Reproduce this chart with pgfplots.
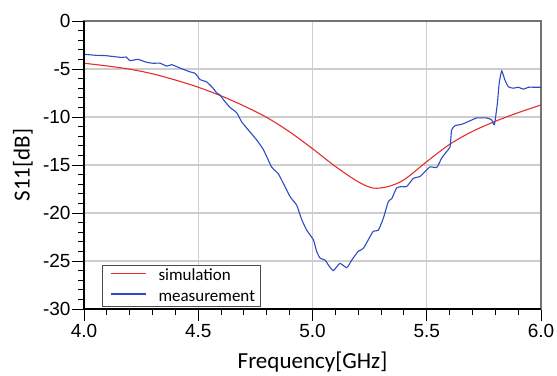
\documentclass[border=0pt]{standalone}
\usepackage{pgfplots}
\pgfplotsset{compat=1.18}
\usepackage{fontspec}
\setmainfont{Carlito}
\newfontfamily\arialf{Liberation Sans}
\definecolor{simred}{RGB}{228,45,45}
\definecolor{measblue}{RGB}{45,75,195}
\definecolor{gridgray}{RGB}{205,205,205}
\begin{document}
\begin{tikzpicture}
\begin{axis}[
  scale only axis, width=457pt, height=288pt,
  xmin=4, xmax=6, ymin=-30, ymax=0,
  xtick={4,4.5,5,5.5,6}, xticklabels={4.0,4.5,5.0,5.5,6.0},
  ytick={-30,-25,-20,-15,-10,-5,0}, yticklabels={-30,-25,-20,-15,-10,-5,0},
  minor x tick num=4, minor y tick num=4,
  tick align=outside, tick pos=left,
  major tick length=12pt, minor tick length=6pt,
  tick style={black, line width=0.9pt},
  grid=major, major grid style={gridgray, line width=1.2pt},
  axis line style={line width=1.1pt, color=black!55},
  tick label style={font=\arialf\fontsize{19}{22}\selectfont},
  yticklabel style={xshift=2pt},
  xlabel={Frequency[GHz]}, ylabel={S11[dB]},
  label style={font=\fontsize{23}{27}\selectfont},
  xlabel style={at={([yshift=-60pt]axis description cs:0.5,0)}, anchor=base},
  ylabel style={at={([xshift=-61pt]axis description cs:0,0.5)}, anchor=center},
  legend style={at={(axis description cs:0.0394,0.007)}, anchor=south west,
    draw=black!70, line width=0.8pt, row sep=4pt, column sep=10pt,
    font=\fontsize{17}{20}\selectfont},
  legend cell align=left,
  legend image code/.code={\path (0pt,0pt); \draw[#1] (5pt,0.25em) -- (40pt,0.25em);},
]
\addplot[simred, line width=1.1pt, smooth] coordinates {
(4.0,-4.4) (4.1,-4.68) (4.2,-5.02) (4.3,-5.5) (4.4,-6.15) (4.5,-6.9)
(4.6,-7.8) (4.7,-8.85) (4.8,-10.05) (4.9,-11.55) (5.0,-13.3) (5.1,-15.15)
(5.2,-16.75) (5.265,-17.4) (5.33,-17.25) (5.4,-16.55) (5.5,-14.65)
(5.6,-12.85) (5.7,-11.5) (5.8,-10.45) (5.9,-9.55) (6.0,-8.75)
};
\addlegendentry{simulation}
\addplot[measblue, line width=1.1pt, smooth, tension=0.3] coordinates {
(4.000,-3.47) (4.025,-3.52) (4.056,-3.58) (4.09,-3.6) (4.128,-3.7) (4.166,-3.8)
(4.185,-3.75) (4.201,-4.13) (4.236,-4.0) (4.274,-4.3) (4.302,-4.4) (4.333,-4.4)
(4.362,-4.7) (4.384,-4.55) (4.420,-4.9) (4.464,-5.3) (4.486,-5.45) (4.508,-6.1)
(4.537,-6.35) (4.565,-7.0) (4.581,-7.5) (4.595,-7.7) (4.610,-8.2) (4.639,-9.0)
(4.668,-9.55) (4.690,-10.5) (4.719,-11.35) (4.756,-12.4) (4.785,-13.4)
(4.821,-15.2) (4.850,-15.9) (4.872,-16.9) (4.902,-18.3) (4.931,-19.2)
(4.953,-20.7) (4.975,-21.8) (5.004,-22.8) (5.018,-24.0) (5.033,-24.7)
(5.055,-24.9) (5.069,-25.4) (5.091,-26.0) (5.120,-25.25) (5.150,-25.7)
(5.172,-24.9) (5.200,-24.0) (5.222,-23.7) (5.244,-22.8) (5.266,-21.9)
(5.288,-21.8) (5.310,-20.55) (5.332,-18.8) (5.347,-18.5) (5.368,-17.4)
(5.390,-17.25) (5.412,-17.25) (5.441,-16.4) (5.470,-16.2) (5.492,-15.7)
(5.514,-15.2) (5.544,-15.25) (5.565,-14.3) (5.587,-13.6) (5.602,-13.1)
(5.609,-11.35) (5.624,-10.9) (5.646,-10.8) (5.660,-10.7) (5.689,-10.4)
(5.719,-10.1) (5.762,-10.1) (5.784,-10.3) (5.796,-10.8) (5.809,-8.6)
(5.817,-6.5) (5.828,-5.2) (5.842,-6.15) (5.857,-6.85) (5.879,-7.0)
(5.901,-6.9) (5.923,-7.1) (5.945,-6.9) (5.967,-6.9) (5.993,-6.9) (6.0,-6.9)
};
\addlegendentry{measurement}
\end{axis}
\draw[black, line width=1.2pt] (current axis.north west) -- (current axis.south west) -- (current axis.south east);
\pgfresetboundingbox
\path[use as bounding box] ([shift={(-84pt,-67pt)}]current axis.south west) rectangle ([shift={(16pt,21pt)}]current axis.north east);
\end{tikzpicture}
\end{document}
